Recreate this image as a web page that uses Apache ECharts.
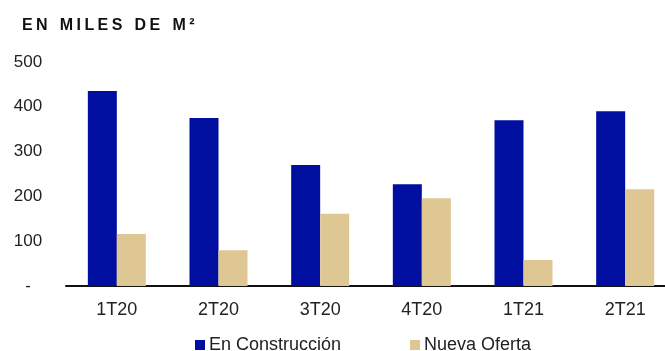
<!DOCTYPE html>
<html>
<head>
<meta charset="utf-8">
<script src="https://cdn.jsdelivr.net/npm/echarts@6/dist/echarts.min.js"></script>
<style>
  html, body { margin: 0; padding: 0; background: #fff; }
  #wrap { position: relative; width: 665px; height: 351px; overflow: hidden; }
  /* the plot area runs a little past the right edge of the page */
  #chart { position: absolute; left: 0; top: 0; width: 676px; height: 351px; }
  #unit {
    position: absolute; left: 22px; top: 16px;
    font: bold 16px "Liberation Sans", Arial, sans-serif;
    letter-spacing: 3.4px; word-spacing: 1px; color: #111;
    white-space: nowrap; z-index: 2;
  }
</style>
</head>
<body>
<div id="wrap">
  <div id="chart"></div>
  <div id="unit">EN MILES DE M²</div>
</div>
<script>
// Quarterly surface, thousands of m²
const quarters = ['1T20', '2T20', '3T20', '4T20', '1T21', '2T21'];
const enConstruccion = [435, 375, 270, 227, 370, 390];
const nuevaOferta = [116, 80, 161, 196, 58, 216];
const yTicks = [0, 100, 200, 300, 400, 500];

const BLUE = '#000F9F';
const TAN = '#DEC792';
const FONT = '"Liberation Sans", Arial, sans-serif';

const chart = echarts.init(document.getElementById('chart'), null, { renderer: 'canvas' });
chart.setOption({
  animation: false,
  backgroundColor: '#fff',
  grid: { left: 66, right: 0, top: 62, height: 224, containLabel: false },
  legend: {
    left: 190, top: 331,
    itemWidth: 10, itemHeight: 10, itemGap: 69,
    icon: 'rect',
    textStyle: { fontFamily: FONT, fontSize: 18, color: '#222', padding: [0, 0, 0, -1] },
    data: ['En Construcción', 'Nueva Oferta']
  },
  xAxis: {
    type: 'category',
    data: quarters,
    axisTick: { show: false },
    axisLine: { lineStyle: { color: '#111', width: 2 } },
    axisLabel: { fontFamily: FONT, fontSize: 18, color: '#222', margin: 15 }
  },
  yAxis: {
    type: 'value',
    min: yTicks[0], max: yTicks[yTicks.length - 1], interval: 100,
    splitLine: { show: false },
    axisLine: { show: false },
    axisTick: { show: false },
    axisLabel: {
      fontFamily: FONT, fontSize: 17, color: '#222',
      align: 'center', margin: 38,
      formatter: v => (v === 0 ? '-' : String(v))
    }
  },
  series: [
    {
      name: 'En Construcción', type: 'bar', data: enConstruccion,
      barWidth: 29, barGap: '0%',
      itemStyle: { color: BLUE }
    },
    {
      name: 'Nueva Oferta', type: 'bar', data: nuevaOferta,
      barWidth: 29, barGap: '0%',
      itemStyle: { color: TAN }
    }
  ]
});
</script>
</body>
</html>
